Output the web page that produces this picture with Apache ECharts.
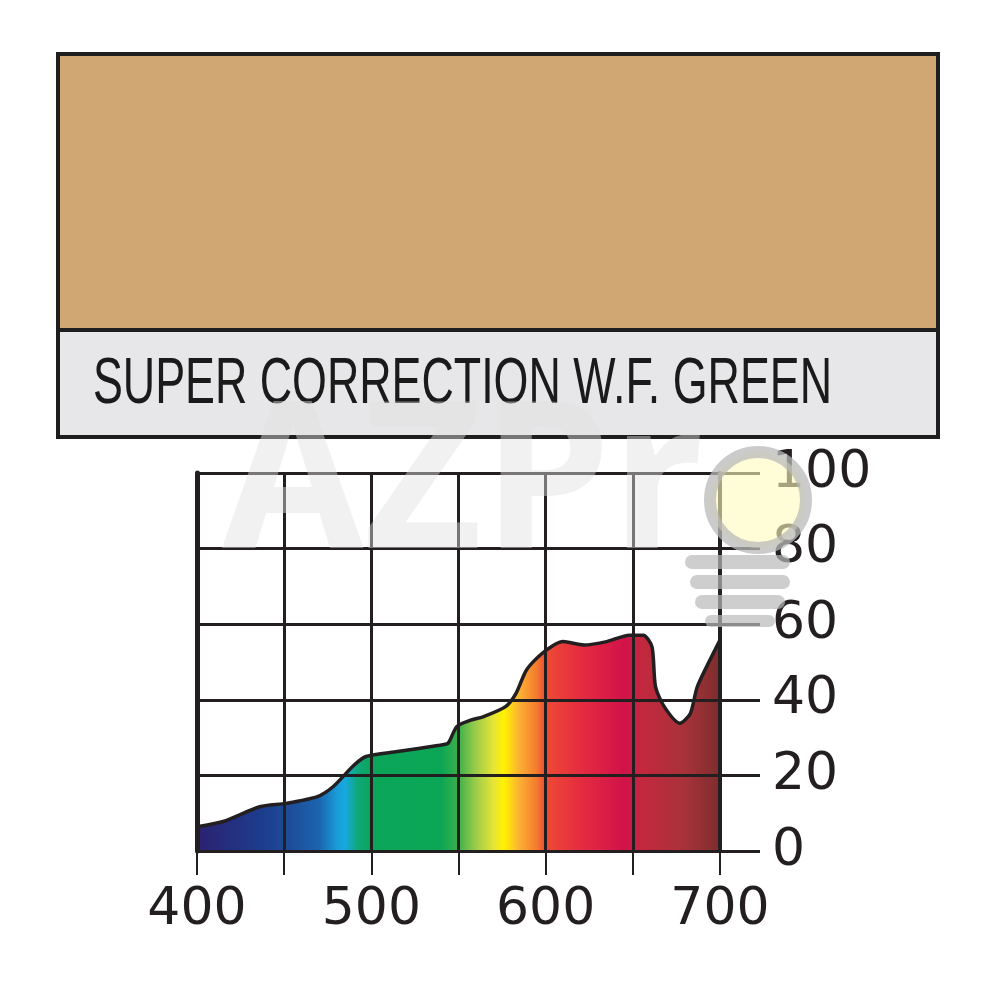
<!DOCTYPE html>
<html>
<head>
<meta charset="utf-8">
<script src="https://cdn.jsdelivr.net/npm/echarts@6/dist/echarts.min.js"></script>
<style>html,body{margin:0;padding:0;background:#fff}#c{width:1000px;height:1000px}</style>
</head>
<body>
<div id="c"></div>
<script>
// Data
const titleText = 'SUPER CORRECTION W.F. GREEN';
const wavelengths = [400,415,436,451,469,478,490,497,515,539,544,549,557,564,577,583,589,598,610,622,635,648,656,661,663,668,677,683,687,698,700];
const transmission = [6.4,7.8,11.7,12.6,14.4,17,22.7,25,26.3,28,28.5,32.9,34.6,35.5,38.2,41.7,47.9,52.3,55.4,54.5,55.4,57.1,57.1,54,43.5,38.2,33.8,36.4,43.5,54,55.8];
const xTickLabels = [400,500,600,700];
const yTicks = [0,20,40,60,80,100];
const swatchColor = '#D0A673';
const spectrumStops = [
  [400,'#2b2170'],[420,'#252f80'],[440,'#1c3f8e'],[455,'#1d4f9c'],[470,'#1b64ae'],
  [480,'#1a9ad6'],[485,'#17a8e0'],[492,'#10a87a'],[500,'#0ba55a'],[540,'#0ba655'],
  [550,'#3db04b'],[560,'#9ccc4a'],[570,'#e6e338'],[576,'#fff200'],[585,'#fbb034'],
  [595,'#f47a2e'],[600,'#ee4a35'],[620,'#e52c40'],[645,'#d1124a'],[655,'#c3283e'],
  [680,'#a8323a'],[700,'#7c2d2d']
];

const INK = '#231f20';
const chart = echarts.init(document.getElementById('c'));

const cv = document.createElement('canvas').getContext('2d');
cv.font = '64px "Liberation Sans"';
const titleW = cv.measureText(titleText).width;
const titleScale = 739 / titleW;

const points = wavelengths.map((w,i)=>[w, transmission[i]]);

chart.setOption({
  animation: false,
  backgroundColor: '#ffffff',
  grid: {left: 197, right: 280, top: 473, bottom: 149},
  xAxis: {
    type: 'value', min: 400, max: 700, interval: 50, z: 5,
    axisLine: {show: true, onZero: false, lineStyle: {color: INK, width: 3}},
    axisTick: {show: true, inside: false, length: 24, lineStyle: {color: INK, width: 2}},
    axisLabel: {
      margin: 33, color: INK, fontSize: 52, fontFamily: 'DejaVu Sans',
      formatter: v => xTickLabels.indexOf(v) >= 0 ? String(v) : ''
    },
    splitLine: {show: true, lineStyle: {color: INK, width: 3}}
  },
  yAxis: [
    {
      type: 'value', min: 0, max: 100, interval: 20, position: 'right', z: 5,
      axisLine: {show: true, lineStyle: {color: INK, width: 4}},
      axisTick: {show: true, inside: false, length: 40, lineStyle: {color: INK, width: 3}},
      axisLabel: {margin: 52, color: INK, fontSize: 52, fontFamily: 'DejaVu Sans', padding: [14, 0, 0, 0],
        formatter: v => yTicks.indexOf(v) >= 0 ? String(v) : ''},
      splitLine: {show: true, lineStyle: {color: INK, width: 3}}
    },
    {
      type: 'value', min: 0, max: 100, interval: 20, position: 'left', z: 5,
      axisLine: {show: true, lineStyle: {color: INK, width: 5}},
      axisTick: {show: false}, axisLabel: {show: false}, splitLine: {show: false}
    }
  ],
  series: [{
    type: 'line', data: points, yAxisIndex: 0, smooth: 0.25, symbol: 'none', z: 2,
    lineStyle: {color: INK, width: 3.5},
    areaStyle: {
      opacity: 1,
      color: new echarts.graphic.LinearGradient(0, 0, 1, 0,
        spectrumStops.map(s => ({offset: (s[0]-400)/300, color: s[1]})))
    }
  }],
  graphic: [
    {type: 'rect', shape: {x: 58, y: 54, width: 880, height: 276}, style: {fill: swatchColor}, z: 1},
    {type: 'rect', shape: {x: 58, y: 330, width: 880, height: 107}, style: {fill: '#E7E7E9'}, z: 1},
    {type: 'line', shape: {x1: 58, y1: 330, x2: 938, y2: 330}, style: {stroke: '#1e1e1e', lineWidth: 4}, z: 2},
    {type: 'rect', shape: {x: 58, y: 54, width: 880, height: 383}, style: {fill: 'none', stroke: '#1e1e1e', lineWidth: 4}, z: 3},
    {type: 'text', x: 93, y: 385, scaleX: titleScale, z: 4,
      style: {text: titleText, fontSize: 64, fontFamily: 'Liberation Sans', fill: '#1a1a1a', align: 'left', verticalAlign: 'middle'}},
    // watermark
    {type: 'text', x: 222, y: 490, z: 20,
      style: {text: 'AZPr', fontSize: 205, fontFamily: 'Open Sans', fontWeight: 'bold', fill: 'rgba(225,225,225,0.45)', align: 'left', verticalAlign: 'middle'}},
    {type: 'circle', shape: {cx: 758, cy: 500, r: 48}, z: 19,
      style: {fill: 'rgba(255,252,190,0.6)', stroke: 'rgba(185,185,185,0.75)', lineWidth: 12}},
    {type: 'rect', shape: {x: 685, y: 555, width: 105, height: 14, r: 7}, z: 19, style: {fill: 'rgba(185,185,185,0.7)'}},
    {type: 'rect', shape: {x: 690, y: 575, width: 100, height: 14, r: 7}, z: 19, style: {fill: 'rgba(185,185,185,0.7)'}},
    {type: 'rect', shape: {x: 695, y: 595, width: 90, height: 14, r: 7}, z: 19, style: {fill: 'rgba(185,185,185,0.7)'}},
    {type: 'rect', shape: {x: 705, y: 615, width: 70, height: 12, r: 6}, z: 19, style: {fill: 'rgba(185,185,185,0.7)'}}
  ]
});
</script>
</body>
</html>
